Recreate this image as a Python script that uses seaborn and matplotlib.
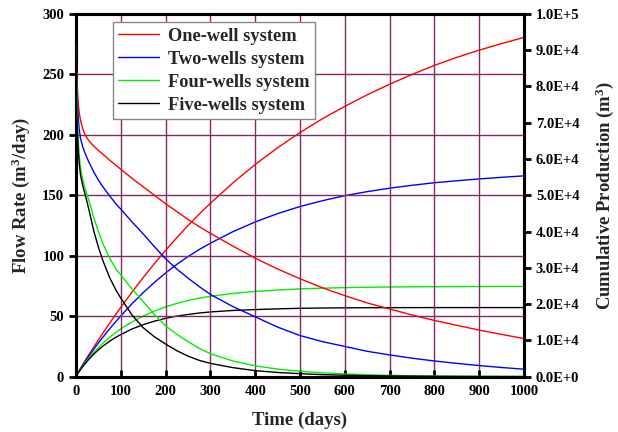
import matplotlib
matplotlib.use("Agg")
import matplotlib.pyplot as plt
import seaborn as sns
import pandas as pd

# ---------------- data ----------------
time_days = [0, 1, 2, 3, 5, 7, 10, 15, 20, 25, 30, 40, 50, 60, 75, 90, 100, 125, 150, 175,
             200, 225, 250, 275, 300, 350, 400, 450, 500, 550, 600, 650, 700, 750, 800,
             850, 900, 950, 1000]

systems = ["One-well system", "Two-wells system", "Four-wells system", "Five-wells system"]
colors = ["#FF0000", "#0000FF", "#00F000", "#000000"]

rate_one = [273, 258, 247, 238, 226, 219, 212, 205, 200, 197, 194.5, 190.5, 187, 184, 179,
            174.5, 171.5, 164, 157, 150, 143, 136.5, 130, 124, 118.5, 108, 98, 89, 81, 73.5,
            67, 61, 56, 51, 46.5, 42.5, 38.5, 35, 31.5]
rate_two = [273, 252, 238, 228, 214, 205, 197, 190, 185, 180.5, 176.5, 169, 162.5, 157,
            149.5, 142.5, 138.5, 128, 118, 107.5, 97.5, 89, 81.5, 74.5, 68, 58, 49.5, 41,
            34, 29, 25, 21, 18, 15.3, 13, 11, 9.2, 7.6, 6.2]
rate_four = [273, 245, 228, 214, 196, 184, 172, 163, 156, 150, 144, 131, 120, 110, 98,
             88.5, 84, 72.5, 62, 51.5, 42, 35, 29, 23.5, 19, 13, 9, 6.3, 4.5, 3.2, 2.3,
             1.6, 1.1, 0.8, 0.6, 0.4, 0.3, 0.25, 0.2]
rate_five = [273, 237, 216, 203, 187, 177, 167, 158, 151, 144, 136, 120, 107, 96, 82, 71,
             65, 51, 40.5, 33, 27, 21.5, 17, 13.5, 11, 7.5, 5, 3.5, 2.5, 1.7, 1.2, 0.85,
             0.6, 0.45, 0.3, 0.22, 0.15, 0.12, 0.1]

cum_one = [0, 265, 520, 760, 1225, 1670, 2310, 3350, 4360, 5350, 6330, 8260, 10150, 12000,
           14750, 17400, 19130, 23320, 27330, 31170, 34830, 38320, 41650, 44800, 47800,
           53400, 58500, 63100, 67300, 71100, 74500, 77700, 80600, 83300, 85800, 88000,
           90000, 91800, 93500]
cum_two = [0, 262, 507, 740, 1182, 1601, 2204, 3172, 4110, 5024, 5917, 7645, 9302, 10900,
           13184, 15363, 16768, 20099, 23174, 25992, 28600, 30950, 33100, 35050, 36800,
           39950, 42650, 44950, 46900, 48500, 49900, 51000, 51950, 52750, 53450, 54000,
           54500, 54950, 55350]
cum_four = [0, 265, 510, 735, 1160, 1550, 2100, 2960, 3780, 4570, 5330, 6750, 8040, 9230,
            10850, 12300, 13200, 15100, 16700, 18100, 19250, 20200, 21000, 21650, 22150,
            22950, 23500, 23900, 24200, 24400, 24550, 24650, 24720, 24770, 24800, 24830,
            24850, 24870, 24880]
cum_five = [0, 255, 482, 691, 1081, 1445, 1961, 2774, 3546, 4284, 4984, 6264, 7400, 8420,
            9780, 10950, 11600, 13150, 14350, 15300, 16100, 16700, 17150, 17550, 17850,
            18250, 18500, 18700, 18850, 18930, 18980, 19010, 19030, 19040, 19050, 19050,
            19050, 19050, 19050]

left_ticks = [0, 50, 100, 150, 200, 250, 300]
x_ticks = [0, 100, 200, 300, 400, 500, 600, 700, 800, 900, 1000]
right_ticks = [0, 10000, 20000, 30000, 40000, 50000, 60000, 70000, 80000, 90000, 100000]
right_tick_labels = ["0.0E+0", "1.0E+4", "2.0E+4", "3.0E+4", "4.0E+4", "5.0E+4",
                     "6.0E+4", "7.0E+4", "8.0E+4", "9.0E+4", "1.0E+5"]

rates = [rate_one, rate_two, rate_four, rate_five]
cums = [cum_one, cum_two, cum_four, cum_five]

rate_df = pd.concat([pd.DataFrame({"t": time_days, "v": r, "sys": s})
                     for r, s in zip(rates, systems)], ignore_index=True)
cum_df = pd.concat([pd.DataFrame({"t": time_days, "v": c, "sys": s})
                    for c, s in zip(cums, systems)], ignore_index=True)

# ---------------- style ----------------
sns.set_theme(style="white")
plt.rcParams["font.family"] = ["Liberation Serif", "DejaVu Serif"]
plt.rcParams["font.weight"] = "bold"
plt.rcParams["axes.labelweight"] = "bold"
plt.rcParams["mathtext.fontset"] = "custom"
plt.rcParams["mathtext.rm"] = "Liberation Serif:bold"
plt.rcParams["mathtext.bf"] = "Liberation Serif:bold"
plt.rcParams["mathtext.it"] = "Liberation Serif:bold:italic"

fig = plt.figure(figsize=(6.18, 4.32), dpi=100)
ax = fig.add_axes([0.123, 0.128, 0.725, 0.840])
ax2 = ax.twinx()

palette = dict(zip(systems, colors))
sns.lineplot(data=rate_df, x="t", y="v", hue="sys", palette=palette, ax=ax,
             linewidth=1.0, legend=False, zorder=3)
sns.lineplot(data=cum_df, x="t", y="v", hue="sys", palette=palette, ax=ax2,
             linewidth=1.0, legend=False, zorder=3)

ax.set_xlim(0, 1000)
ax.set_ylim(0, 300)
ax2.set_ylim(0, 100000)
ax.set_xticks(x_ticks)
ax.set_yticks(left_ticks)
ax2.set_yticks(right_ticks)
ax2.set_yticklabels(right_tick_labels)

grid_color = "#842C62"
ax.grid(True, color=grid_color, linewidth=1.0)
ax.set_axisbelow(True)
ax2.grid(False)

for a in (ax, ax2):
    for sp in a.spines.values():
        sp.set_color("black")
        sp.set_linewidth(2.2)
        sp.set_visible(True)

ax.tick_params(axis="x", direction="in", length=5, width=2, colors="black",
               labelsize=10.5, pad=6, bottom=True, top=False)
ax.tick_params(axis="y", direction="out", length=5, width=2, colors="black",
               labelsize=10.5, left=True, right=False)
ax2.tick_params(axis="y", direction="out", length=5, width=2, colors="black",
                labelsize=10.5, right=True, left=False)
for lab in ax.get_xticklabels() + ax.get_yticklabels() + ax2.get_yticklabels():
    lab.set_fontweight("bold")

ax.set_xlabel("Time (days)", fontsize=13.5, fontweight="bold", labelpad=10)
ax.set_ylabel("Flow Rate (m$^3$/day)", fontsize=13.5, fontweight="bold", labelpad=7)
ax2.set_ylabel("Cumulative Production (m$^3$)", fontsize=13.5, fontweight="bold", labelpad=10)

handles = [plt.Line2D([], [], color=c, linewidth=1.0) for c in colors]
leg = ax.legend(handles, systems, loc="upper left", bbox_to_anchor=(0.082, 0.977),
                frameon=True, fancybox=False, edgecolor="#888888", framealpha=1,
                prop={"family": "Liberation Serif", "weight": "bold", "size": 13.2},
                handlelength=2.2, handletextpad=0.5, labelspacing=0.33,
                borderpad=0.3, borderaxespad=0)
leg.get_frame().set_linewidth(1.0)
leg.set_zorder(10)
ax.set_zorder(ax2.get_zorder() + 1)
ax.patch.set_visible(False)

fig.savefig("out.png", dpi=100)
